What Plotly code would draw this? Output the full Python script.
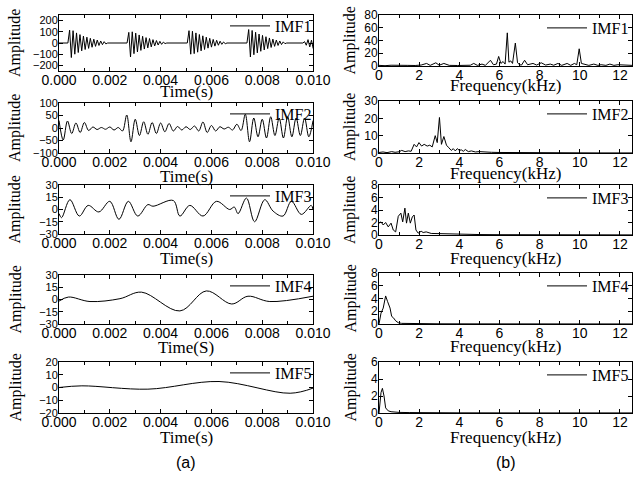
import plotly.graph_objects as go

W, H = 634, 477

# ---------------- data: time-domain IMFs ----------------
imf1_half_period = 0.000068
imf1_burst_starts = [0.00035, 0.00268, 0.00505, 0.0074, 0.0096]
imf1_bursts = [
    [0, 115, -130, 110, -100, 90, -85, 75, -70, 62, -58, 52, -48, 42, -38, 34, -30, 26, -22, 18, -15, 12, -8, 0],
    [0, 95, -125, 100, -95, 88, -80, 72, -66, 60, -54, 48, -44, 40, -35, 30, -26, 22, -18, 15, -12, 8, -5, 0],
    [0, 110, -100, 105, -95, 90, -82, 76, -70, 64, -58, 52, -46, 42, -37, 32, -28, 24, -20, 16, -12, 9, -6, 0],
    [0, 120, -125, 112, -105, 96, -88, 80, -74, 68, -62, 56, -50, 45, -40, 35, -30, 26, -22, 18, -14, 10, -6, 0],
    [0, 12, -20, 30, -35, 25, -50],
]

imf2_step = 0.0001667
imf2_values = [30, -48, 28, -22, 20, -18, 22, -10, 4, -6, 2, -5, 4, -8, 2, -12,
               52, -55, 35, -30, 25, -25, 22, -22, 20, -15, 18, -12, 6, -8, 5, -6,
               8, -12, 24, -18, 10, -12, 5, -4, 3, -8, 15, -10, 55, -55, 40, -35,
               35, -40, 45, -30, 40, -40, 45, -35, 40, -30, 40, -35, 30]

imf3_t = [0, 0.0001, 0.00043, 0.0008, 0.00115, 0.00157, 0.002, 0.00236, 0.00273, 0.0031,
          0.0035, 0.0037, 0.0045, 0.00476, 0.00515, 0.00567, 0.0062, 0.00672, 0.0069, 0.00705,
          0.00738, 0.0077, 0.0081, 0.00843, 0.00882, 0.00915, 0.00954, 0.00993, 0.01]
imf3_v = [-5, -10, 12, -8, 5, -3, 10, -12, 10, -8,
          6, 4, 11, -8, 5, -8, 10, 0, 3, -5,
          14, -15, 12, -2, -8, 10, -6, 5, 0]

imf4_t = [0, 0.00037, 0.00122, 0.0024, 0.00325, 0.00476, 0.0058, 0.0068, 0.00744, 0.0083, 0.01]
imf4_v = [-2, 3, -2.5, 1, 9, -14, 10.5, -5.5, 4, -2.5, 4]

imf5_t = [0, 0.0009, 0.0035, 0.0063, 0.0091, 0.01]
imf5_v = [0, 1.3, -1.3, 4.7, -4.5, -0.5]

# ---------------- data: spectra ----------------
sp1_f = [0, 0.3, 0.6, 1.0, 1.4, 1.8, 2.1, 2.37, 2.55, 2.83, 3.0, 3.23, 3.5, 3.9, 4.3, 4.55, 4.72, 4.9,
         5.13, 5.3, 5.55, 5.7, 5.85, 5.96, 6.07, 6.18, 6.28, 6.39, 6.47, 6.56, 6.65, 6.79, 6.9, 7.0,
         7.1, 7.25, 7.4, 7.67, 7.85, 8.08, 8.3, 8.53, 8.7, 8.91, 9.1, 9.37, 9.55, 9.73, 9.85, 9.97,
         10.08, 10.2, 10.45, 10.7, 10.9, 11.06, 11.3, 11.5, 11.7, 11.9, 12.2, 12.4, 12.6]
sp1_a = [1, 0.5, 1.2, 0.6, 1.0, 0.8, 1.5, 4, 1, 5, 1.2, 4, 1, 0.8, 1, 1.2, 4, 1,
         3, 1, 9, 2, 3, 15, 4, 7, 3, 52, 6, 8, 4, 36, 5, 2,
         1.5, 9, 2, 4, 1.5, 5, 1.5, 3, 1.2, 4, 1, 4, 1, 4, 2, 27,
         4, 3, 1, 3, 1, 2, 1, 3, 1, 2, 2, 1, 1]

sp2_f = [0, 0.2, 0.4, 0.63, 0.8, 1.0, 1.13, 1.3, 1.46, 1.6, 1.75, 1.87, 1.99, 2.12, 2.25, 2.4, 2.53,
         2.65, 2.8, 2.9, 3.01, 3.11, 3.23, 3.36, 3.48, 3.6, 3.7, 3.8, 3.9, 4.0, 4.1, 4.2, 4.3, 4.45,
         4.6, 4.8, 5.0, 5.3, 5.6, 6.0, 6.5, 7.0, 8.0, 9.0, 10.0, 11.0, 12.6]
sp2_a = [0.3, 0.6, 0.2, 0.8, 0.4, 0.7, 1.5, 0.8, 1.2, 1.0, 5, 3.5, 6, 4, 5, 4, 4.5,
         3.5, 10, 6, 20.5, 5, 9.5, 4.5, 3, 1.5, 2.5, 1.2, 2.5, 1.5, 1.8, 1.0, 2, 0.8,
         1.2, 0.6, 0.8, 0.5, 0.4, 0.3, 0.25, 0.2, 0.15, 0.1, 0.1, 0.05, 0.05]

sp3_f = [0, 0.1, 0.21, 0.33, 0.46, 0.6, 0.71, 0.83, 0.96, 1.09, 1.18, 1.29, 1.37, 1.46, 1.56, 1.66,
         1.75, 1.84, 1.95, 2.1, 2.2, 2.35, 2.6, 3.0, 3.5, 4.0, 5.0, 6.0, 8.0, 10.0, 12.6]
sp3_a = [1.9, 2.1, 1.6, 2.0, 1.3, 1.9, 0.8, 0.5, 3.0, 3.5, 2.1, 4.3, 1.9, 3.5, 1.9, 2.9,
         3.2, 0.8, 0.3, 0.6, 0.4, 0.5, 0.25, 0.2, 0.15, 0.1, 0.07, 0.05, 0.03, 0.02, 0.02]

sp4_f = [0, 0.05, 0.1, 0.21, 0.33, 0.43, 0.55, 0.63, 0.71, 0.83, 0.96, 1.13, 1.5, 2.0, 3.0, 5.0, 8.0, 12.6]
sp4_a = [0, 1.0, 1.7, 2.5, 4.4, 3.5, 2.5, 1.2, 1.0, 0.5, 0.2, 0.1, 0.07, 0.05, 0.03, 0.02, 0.01, 0.01]

sp5_f = [0, 0.05, 0.1, 0.17, 0.25, 0.33, 0.46, 0.6, 0.8, 1.0, 1.5, 2.0, 4.0, 8.0, 12.6]
sp5_a = [0, 1.2, 2.4, 2.9, 2.0, 0.6, 0.25, 0.15, 0.1, 0.07, 0.05, 0.03, 0.02, 0.01, 0.01]

imf_names = ["IMF1", "IMF2", "IMF3", "IMF4", "IMF5"]
time_titles = ["Time(s)", "Time(s)", "Time(s)", "Time(S)", "Time(s)"]
time_yranges = [[-250, 250], [-100, 100], [-30, 30], [-30, 30], [-20, 20]]
time_ydticks = [100, 50, 15, 15, 10]
spec_yranges = [[0, 80], [0, 30], [0, 8], [0, 8], [0, 6]]
spec_ydticks = [20, 10, 2, 2, 2]
panel_labels = ["(a)", "(b)"]

# ---------------- build time series ----------------
imf1_t, imf1_v = [0.0], [0.0]
for start, vals in zip(imf1_burst_starts, imf1_bursts):
    for k, v in enumerate(vals):
        imf1_t.append(start + k * imf1_half_period)
        imf1_v.append(v)
imf2_t = [k * imf2_step for k in range(len(imf2_values))]

time_series = [(imf1_t, imf1_v, "linear"), (imf2_t, imf2_values, "spline"),
               (imf3_t, imf3_v, "spline"), (imf4_t, imf4_v, "spline"), (imf5_t, imf5_v, "spline")]
spec_series = [(sp1_f, sp1_a), (sp2_f, sp2_a), (sp3_f, sp3_a), (sp4_f, sp4_a), (sp5_f, sp5_a)]

# ---------------- layout geometry (pixels) ----------------
left_x = (59, 313)
right_x = (379, 632)
left_rows = [(15, 71), (103, 153), (185, 234), (275, 324), (362, 413)]
right_rows = [(15, 66), (101, 153), (185, 235), (273, 324), (362, 413)]
left_title_gap = [20, 23, 24, 23, 24]
right_title_gap = [19, 21, 23, 22, 24]

def xdom(px):
    return [px[0] / W, px[1] / W]

def ydom(px):
    return [1 - px[1] / H, 1 - px[0] / H]

SERIF = "Liberation Serif, Times New Roman, serif"
SANS = "Liberation Sans, Arial, sans-serif"

fig = go.Figure()
layout = dict(template="none", width=W, height=H, margin=dict(l=0, r=0, t=0, b=0),
              paper_bgcolor="white", plot_bgcolor="white", showlegend=True)

common_axis = dict(showline=True, linecolor="black", linewidth=1, mirror="allticks",
                   ticks="inside", ticklen=4, tickcolor="black", tickwidth=1, showgrid=False,
                   zeroline=False, automargin=False,
                   tickfont=dict(family=SANS, size=14, color="black"))

annotations = []

for i in range(10):
    n = i + 1
    xa = "x" if n == 1 else f"x{n}"
    ya = "y" if n == 1 else f"y{n}"
    lg = "legend" if n == 1 else f"legend{n}"
    row = i // 2
    is_left = (i % 2 == 0)
    if is_left:
        t, v, shape = time_series[row]
        fig.add_trace(go.Scatter(x=t, y=v, mode="lines", name=imf_names[row],
                                 line=dict(color="black", width=1, shape=shape),
                                 xaxis=xa, yaxis=ya, legend=lg))
        xpx, ypx = left_x, left_rows[row]
        xtitle = time_titles[row]
        gap = left_title_gap[row]
        xax = dict(common_axis, range=[0, 0.01], dtick=0.002, tick0=0, tickformat=".3f",
                   minor=dict(dtick=0.001, ticks="inside", ticklen=3, tickcolor="black"))
        yax = dict(common_axis, range=time_yranges[row], dtick=time_ydticks[row], tick0=0,
                   tickfont=dict(family=SANS, size=11, color="black"))
        ytitle_x = 15
        lshift = 4
        lup = 6
    else:
        f, a = spec_series[row]
        fig.add_trace(go.Scatter(x=f, y=a, mode="lines", name=imf_names[row],
                                 line=dict(color="black", width=1),
                                 xaxis=xa, yaxis=ya, legend=lg))
        xpx, ypx = right_x, right_rows[row]
        xtitle = "Frequency(kHz)"
        gap = right_title_gap[row]
        xax = dict(common_axis, range=[0, 12.6], dtick=2, tick0=0,
                   minor=dict(dtick=1, ticks="inside", ticklen=3, tickcolor="black"))
        yax = dict(common_axis, range=spec_yranges[row], dtick=spec_ydticks[row], tick0=0,
                   tickfont=dict(family=SANS, size=12, color="black"))
        ytitle_x = 350
        lshift = 2
        lup = 4
    dx, dy = xdom(xpx), ydom(ypx)
    xax.update(domain=dx, anchor=ya, ticklabelstandoff=-4)
    yax.update(domain=dy, anchor=xa, ticklabelstandoff=-2)
    layout["xaxis" if n == 1 else f"xaxis{n}"] = xax
    layout["yaxis" if n == 1 else f"yaxis{n}"] = yax
    layout[lg] = dict(x=(xpx[1] + lshift) / W, y=1 - (ypx[0] - lup) / H,
                      xanchor="right", yanchor="top",
                      bgcolor="rgba(0,0,0,0)", borderwidth=0,
                      font=dict(family=SERIF, size=16, color="black"),
                      itemwidth=40, tracegroupgap=0)
    # axis titles
    annotations.append(dict(text=xtitle, xref="paper", yref="paper",
                            x=(xpx[0] + xpx[1]) / 2 / W, y=1 - (ypx[1] + gap) / H,
                            xanchor="center", yanchor="middle", showarrow=False,
                            font=dict(family=SERIF, size=17, color="black")))
    annotations.append(dict(text="Amplitude", xref="paper", yref="paper", textangle=-90,
                            x=ytitle_x / W, y=1 - (ypx[0] + ypx[1]) / 2 / H,
                            xanchor="center", yanchor="middle", showarrow=False,
                            font=dict(family=SERIF, size=16, color="black")))

for lab, xpx in zip(panel_labels, [left_x, right_x]):
    annotations.append(dict(text=lab, x=(xpx[0] + xpx[1]) / 2 / W, y=1 - 462 / H,
                            xref="paper", yref="paper", xanchor="center", yanchor="middle",
                            showarrow=False, font=dict(family=SANS, size=16, color="black")))

layout["annotations"] = annotations
fig.update_layout(**layout)
fig.write_html("out.html")
